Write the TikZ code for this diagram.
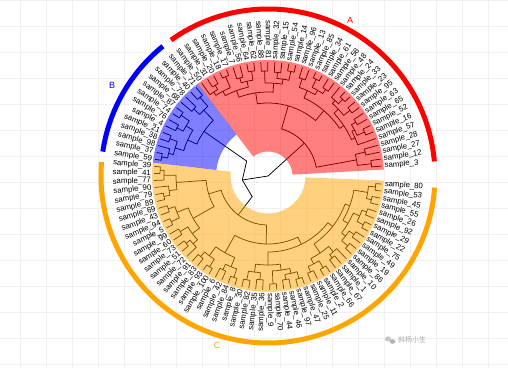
\documentclass[tikz,border=0pt]{standalone}
\usepackage{fontspec}
\setmainfont{Liberation Sans}
\newfontfamily\cjkfont{Noto Sans CJK SC}
\definecolor{ggorange}{RGB}{255,165,0}
\tikzset{
  lab/.style={font=\fontsize{7.8}{8}\selectfont, inner sep=0pt},
  tree/.style={line width=0.75pt, line join=round},
  bar/.style={line width=5pt},
  cladelab/.style={font=\fontsize{9}{10}\selectfont, inner sep=0pt},
  bggrid/.style={black!6, line width=0.5pt}
}
\newcommand\setleaf[2]{%
  \pgfmathsetmacro\lfang{5+3.545*#1}%
  \expandafter\xdef\csname angL#1\endcsname{\lfang}%
  \expandafter\xdef\csname radL#1\endcsname{114}%
  \ifdim\lfang pt>90pt\relax
    \ifdim\lfang pt<270pt\relax
      \pgfmathsetmacro\lfrot{\lfang-180}%
      \node[lab,rotate=\lfrot,anchor=east] (t#1) at (\lfang:117pt) {sample\_#2};%
    \else
      \node[lab,rotate=\lfang,anchor=west] (t#1) at (\lfang:117pt) {sample\_#2};%
    \fi
  \else
    \node[lab,rotate=\lfang,anchor=west] (t#1) at (\lfang:117pt) {sample\_#2};%
  \fi}
\newcommand\mrg[4]{%
  \edef\mya{\csname ang#2\endcsname}\edef\myb{\csname ang#3\endcsname}%
  \edef\myra{\csname rad#2\endcsname}\edef\myrb{\csname rad#3\endcsname}%
  \pgfmathsetmacro\myang{(\mya+\myb)/2}%
  \expandafter\xdef\csname ang#1\endcsname{\myang}%
  \expandafter\xdef\csname rad#1\endcsname{#4}%
  \draw[tree] (\mya:\myra pt) -- (\mya:#4pt) arc[start angle=\mya, end angle=\myb, radius=#4pt] -- (\myb:\myrb pt);}
\newcommand\mrgchord[4]{%
  \edef\mya{\csname ang#2\endcsname}\edef\myb{\csname ang#3\endcsname}%
  \edef\myra{\csname rad#2\endcsname}\edef\myrb{\csname rad#3\endcsname}%
  \pgfmathsetmacro\myang{(\mya+\myb)/2}%
  \expandafter\xdef\csname ang#1\endcsname{\myang}%
  \expandafter\xdef\csname rad#1\endcsname{#4}%
  \draw[tree] (\mya:\myra pt) -- (\mya:#4pt) -- (\myang:#4pt) -- (\myb:#4pt) -- (\myb:\myrb pt);}
\newcommand\sector[5]{%
  \fill[#1, fill opacity=0.5] (#2:#4pt) -- (#2:#5pt) arc[start angle=#2, end angle=#3, radius=#5pt] -- (#3:#4pt) arc[start angle=#3, end angle=#2, radius=#4pt] -- cycle;}
\begin{document}
\begin{tikzpicture}[x=1pt,y=1pt]
\useasboundingbox (0,0) rectangle (508,368);
\fill[white] (0,0) rectangle (508,368);
\foreach \gx in {20,46,...,500} {\draw[bggrid] (\gx,0) -- (\gx,368);}
\foreach \gy in {4,30,...,368} {\draw[bggrid] (0,\gy) -- (508,\gy);}
\begin{scope}[shift={(268,192)}]
\foreach \i/\l in {0/3,1/12,2/27,3/28,4/57,5/16,6/52,7/65,8/63,9/95,10/23,11/33,12/24,13/48,14/58,15/61,16/34,17/85,18/13,19/96,20/14,21/54,22/15,23/32,24/81,25/88,26/62,27/64,28/56,29/7,30/17,31/18,32/20,33/31,34/50,35/71,36/40,37/78,38/68,39/87,40/74,41/76,42/4,43/21,44/38,45/98,46/37,47/59,48/39,49/41,50/77,51/90,52/79,53/89,54/69,55/43,56/94,57/5,58/99,59/60,60/73,61/51,62/72,63/91,64/83,65/93,66/100,67/6,68/42,69/84,70/8,71/30,72/82,73/35,74/36,75/9,76/70,77/44,78/46,79/97,80/47,81/25,82/11,83/2,84/66,85/67,86/1,87/10,88/86,89/19,90/49,91/75,92/22,93/29,94/92,95/26,96/55,97/45,98/53,99/80}{\setleaf{\i}{\l}}
% clade A
\mrg{a1}{L0}{L1}{104}
\mrg{a2}{L2}{L3}{100}
\mrg{A1}{a1}{a2}{90}
\mrg{a3}{L5}{L6}{106}
\mrg{a4}{L7}{L8}{103}
\mrg{a5}{a3}{a4}{98}
\mrg{a6}{L4}{a5}{95}
\mrg{a7}{L9}{L10}{105}
\mrg{a8}{L11}{L12}{107}
\mrg{a9}{a8}{L13}{101}
\mrg{a10}{a7}{a9}{97}
\mrg{a11}{a6}{a10}{91}
\mrg{a12}{L14}{L15}{104}
\mrg{a13}{L16}{L17}{108}
\mrg{a14}{a12}{a13}{99}
\mrg{a15}{L18}{L19}{103}
\mrg{a16}{a14}{a15}{94}
\mrg{A2a}{a11}{a16}{86}
\mrg{a17}{L20}{L21}{107}
\mrg{a18}{L22}{L23}{104}
\mrg{a19}{a17}{a18}{98}
\mrg{a20}{L24}{L25}{105}
\mrg{a21}{a19}{a20}{93}
\mrg{a22}{L26}{L27}{106}
\mrg{a23}{L28}{L29}{102}
\mrg{a24}{a22}{a23}{97}
\mrg{a25}{L30}{L31}{108}
\mrg{a26}{L32}{L33}{105}
\mrg{a27}{a26}{L34}{100}
\mrg{a28}{a25}{a27}{96}
\mrg{a29}{a24}{a28}{91}
\mrg{A2b}{a21}{a29}{84}
\mrg{A2}{A2a}{A2b}{73}
\mrg{A}{A1}{A2}{49}
% clade B
\mrg{b1}{L35}{L36}{104}
\mrg{b2}{L37}{L38}{100}
\mrg{B1}{b1}{b2}{92}
\mrg{b3}{L39}{L40}{106}
\mrg{b4}{L41}{L42}{103}
\mrg{b5}{b3}{b4}{96}
\mrg{b6}{L43}{L44}{105}
\mrg{b7}{L46}{L47}{108}
\mrg{b8}{L45}{b7}{102}
\mrg{b9}{b6}{b8}{97}
\mrg{B2}{b5}{b9}{88}
\mrg{B}{B1}{B2}{78}
% clade C
\mrg{c1}{L48}{L49}{108}
\mrg{c2}{c1}{L50}{104}
\mrg{c3}{L52}{L53}{106}
\mrg{c4}{L51}{c3}{100}
\mrg{C1a}{c2}{c4}{92}
\mrg{c5}{L54}{L55}{105}
\mrg{c6}{L56}{L57}{107}
\mrg{c7}{c5}{c6}{98}
\mrg{c8}{L58}{L59}{104}
\mrg{c9}{L60}{L61}{106}
\mrg{c10}{c9}{L62}{101}
\mrg{c11}{c8}{c10}{95}
\mrg{C1b}{c7}{c11}{86}
\mrg{C1}{C1a}{C1b}{62}
\mrg{c12}{L63}{L64}{105}
\mrg{c13}{L65}{L66}{108}
\mrg{c14}{c12}{c13}{99}
\mrg{c15}{L67}{L68}{104}
\mrg{c16}{L69}{L70}{107}
\mrg{c17}{c15}{c16}{98}
\mrg{C2a}{c14}{c17}{88}
\mrg{c18}{L71}{L72}{106}
\mrg{c19}{L73}{L74}{104}
\mrg{c20}{c18}{c19}{97}
\mrg{c21}{L75}{L76}{108}
\mrg{c22}{L77}{L78}{105}
\mrg{c23}{L79}{L80}{107}
\mrg{c24}{c22}{c23}{100}
\mrg{c25}{c21}{c24}{95}
\mrg{C2b1}{c20}{c25}{89}
\mrg{c26}{L81}{L82}{105}
\mrg{c27}{L83}{L84}{107}
\mrg{c28}{c26}{c27}{99}
\mrg{c29}{L85}{L86}{104}
\mrg{c30}{c29}{L87}{100}
\mrg{D1}{c28}{c30}{93}
\mrg{c31}{L88}{L89}{106}
\mrg{c32}{L90}{L91}{104}
\mrg{c33}{c31}{c32}{98}
\mrg{c34}{L92}{L93}{107}
\mrg{c35}{L94}{L95}{105}
\mrg{c36}{c34}{c35}{100}
\mrg{c37}{c33}{c36}{93}
\mrg{c38}{L96}{L97}{106}
\mrg{c39}{L98}{L99}{108}
\mrg{c40}{c38}{c39}{101}
\mrg{D2}{c37}{c40}{87}
\mrg{C2b2}{D1}{D2}{82}
\mrg{C2b}{C2b1}{C2b2}{76}
\mrg{C2}{C2a}{C2b}{68}
\mrg{C}{C1}{C2}{49}
% root
\mrgchord{X}{B}{C}{26}
\edef\rootA{\csname angA\endcsname}\edef\rootX{\csname angX\endcsname}
\draw[tree] (0,0) -- (\rootA:49pt);
\draw[tree] (0,0) -- (\rootX:26pt);
% highlights
\sector{red}{3.2}{127.3}{24.5}{116}
\sector{blue}{127.3}{173.4}{52}{116}
\sector{ggorange}{173.4}{357.8}{37.5}{116}
% clade bars
\draw[bar, red] (5:167pt) arc[start angle=5, end angle=125.5, radius=167pt];
\draw[bar, blue] (129:167pt) arc[start angle=129, end angle=171.6, radius=167pt];
\draw[bar, ggorange] (175.2:167pt) arc[start angle=175.2, end angle=356, radius=167pt];
\end{scope}
\node[cladelab, text=red] (labA) at (350,348) {A};
\node[cladelab, text=blue] (labB) at (112,283) {B};
\node[cladelab, text=ggorange] (labC) at (217,23) {C};
% watermark
\fill[gray!45] (388,29) ellipse (3.2pt and 2.6pt);
\fill[gray!60] (392.5,26.5) ellipse (2.8pt and 2.3pt);
\node[text=gray!70, font=\cjkfont\fontsize{7}{8}\selectfont, anchor=west, inner sep=0pt] (wm) at (398,28) {斜杨小生};
\end{tikzpicture}
\end{document}
